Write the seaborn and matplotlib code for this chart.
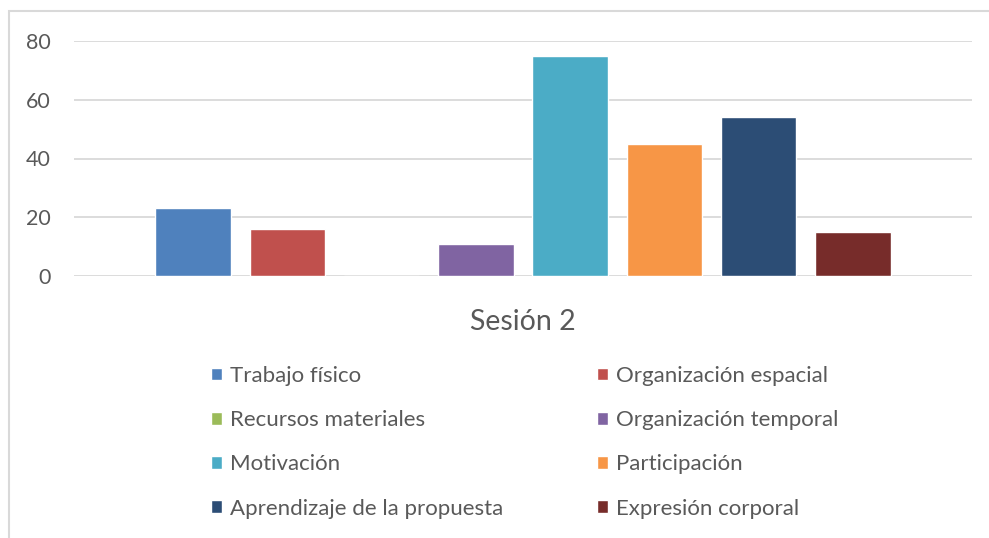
import pandas as pd
import matplotlib
matplotlib.use("Agg")
import matplotlib.pyplot as plt
import seaborn as sns
from matplotlib.patches import Rectangle

# data
sesion = ["Sesión 2"]
categorias = ["Trabajo físico", "Organización espacial", "Recursos materiales",
              "Organización temporal", "Motivación", "Participación",
              "Aprendizaje de la propuesta", "Expresión corporal"]
valores = [23, 16, 0, 11, 75, 45, 54, 15]
colores = ["#4F81BD", "#C0504D", "#9BBB59", "#8064A2",
           "#4BACC6", "#F79646", "#2C4D75", "#772C2A"]
y_ticks = [0, 20, 40, 60, 80]

df = pd.DataFrame({"sesion": sesion * len(categorias),
                   "categoria": categorias,
                   "valor": valores})

sns.set_theme(style="white")
plt.rcParams["font.family"] = ["Lato", "DejaVu Sans"]
text_color = "#595959"
grid_color = "#D9D9D9"

W, H = 989, 538
fig = plt.figure(figsize=(W / 100, H / 100), dpi=100)
ax = fig.add_axes([74 / W, 1 - 276 / H, (972 - 74) / W, (276 - 41) / H])

sns.barplot(data=df, x="sesion", y="valor", hue="categoria", hue_order=categorias,
            palette=colores, saturation=1, width=0.84, gap=0.2, ax=ax, legend=True)

ax.set_ylim(0, 80)
ax.set_xlim(-0.5, 0.5)
ax.set_yticks(y_ticks)
ax.yaxis.grid(True, color=grid_color, linewidth=1.3)
ax.set_axisbelow(True)
for s in ax.spines.values():
    s.set_visible(False)
ax.tick_params(axis="y", length=0, pad=16.5, labelsize=15.5, labelcolor=text_color)
ax.tick_params(axis="x", length=0, pad=24, labelsize=20.5, labelcolor=text_color)
ax.set_xlabel("")
ax.set_ylabel("")

handles, labels = ax.get_legend_handles_labels()
ax.get_legend().remove()

# two columns, filled row by row
leg_kw = dict(loc="upper left", frameon=False, fontsize=16, borderpad=0,
              borderaxespad=0, handlelength=0.5, handleheight=0.5,
              handletextpad=0.36, labelspacing=1.09, labelcolor=text_color)
leg1 = fig.legend(handles[0::2], labels[0::2],
                  bbox_to_anchor=(211 / W, 1 - 366 / H), **leg_kw)
leg2 = fig.legend(handles[1::2], labels[1::2],
                  bbox_to_anchor=(597 / W, 1 - 366 / H), **leg_kw)

# light chart-area frame
fig.patches.append(Rectangle((9 / W, -0.1), 1.1, 1 - 11 / H + 0.1,
                             transform=fig.transFigure, fill=False,
                             edgecolor=grid_color, linewidth=1.5))

fig.savefig("out.png", dpi=100)
